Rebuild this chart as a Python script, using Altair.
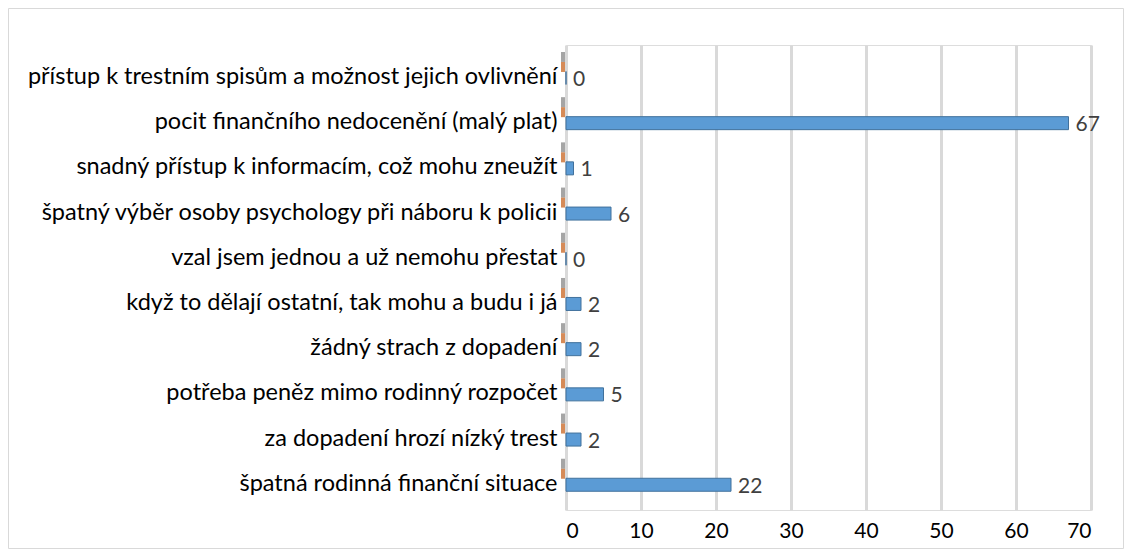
import altair as alt
import pandas as pd

categories = [
    "přístup k trestním spisům a možnost jejich ovlivnění",
    "pocit finančního nedocenění (malý plat)",
    "snadný přístup k informacím, což mohu zneužít",
    "špatný výběr osoby psychology při náboru k policii",
    "vzal jsem jednou a už nemohu přestat",
    "když to dělají ostatní, tak mohu a budu i já",
    "žádný strach z dopadení",
    "potřeba peněz mimo rodinný rozpočet",
    "za dopadení hrozí nízký trest",
    "špatná rodinná finanční situace",
]
values = [0, 67, 1, 6, 0, 2, 2, 5, 2, 22]
series2 = [0] * len(categories)
series3 = [0] * len(categories)
x_ticks = [0, 10, 20, 30, 40, 50, 60, 70]

df = pd.DataFrame({"cat": categories, "v": values, "s2": series2, "s3": series3})

FONT = "Lato"
W, H = 525, 465
PL, PT = 558, 37
PR, PB = 1116 - PL - W, 541 - PT - H

y_enc = alt.Y("cat:N", sort=categories, title=None,
              scale=alt.Scale(paddingInner=0, paddingOuter=0.144, align=0.72),
              axis=alt.Axis(domain=False, ticks=False, labelFontSize=23.5,
                            labelColor="#000000", labelPadding=9, labelLimit=700,
                            labelFont=FONT))
x_scale = alt.Scale(domain=[0, 70], nice=False)
x_enc = alt.X("v:Q", scale=x_scale, title=None,
              axis=alt.Axis(values=x_ticks, domain=False, ticks=False, grid=True,
                            gridColor="#D9D9D9", gridWidth=3, labelFontSize=21,
                            labelColor="#000000", labelPadding=10, labelFont=FONT))

base = alt.Chart(df)

gray = base.mark_tick(orient="vertical", color="#7F7F7F", thickness=4, size=10,
                      yOffset=-20, xOffset=-3).encode(
    x=alt.X("s3:Q", scale=x_scale), y=y_enc)
orange = base.mark_tick(orient="vertical", color="#C55A11", thickness=4, size=10,
                        yOffset=-10, xOffset=-3).encode(
    x=alt.X("s2:Q", scale=x_scale), y=y_enc)
bars = base.mark_bar(size=13, yOffset=1, color="#5B9BD5", stroke="#41719C",
                     strokeWidth=1).encode(x=x_enc, y=y_enc)
labels = base.mark_text(align="left", baseline="middle", dx=7, dy=3, fontSize=21,
                        color="#404040", font=FONT).encode(
    x=alt.X("v:Q", scale=x_scale), y=y_enc, text="v:Q")

border = alt.Chart(pd.DataFrame({"a": [0]})).mark_rect(
    fill=None, stroke="#D9D9D9", strokeWidth=1).encode(
    x=alt.value(-PL + 0.5), x2=alt.value(W + PR - 0.5),
    y=alt.value(-PT + 0.5), y2=alt.value(H + PB - 0.5))

chart = alt.layer(border, gray, orange, bars, labels).properties(
    width=W, height=H,
    autosize=alt.AutoSizeParams(type="none"),
    padding={"left": PL, "top": PT, "right": PR, "bottom": PB},
).configure_view(stroke=None).configure(background="white")

chart.save("out.html", embed_options={"renderer": "svg", "actions": False})
